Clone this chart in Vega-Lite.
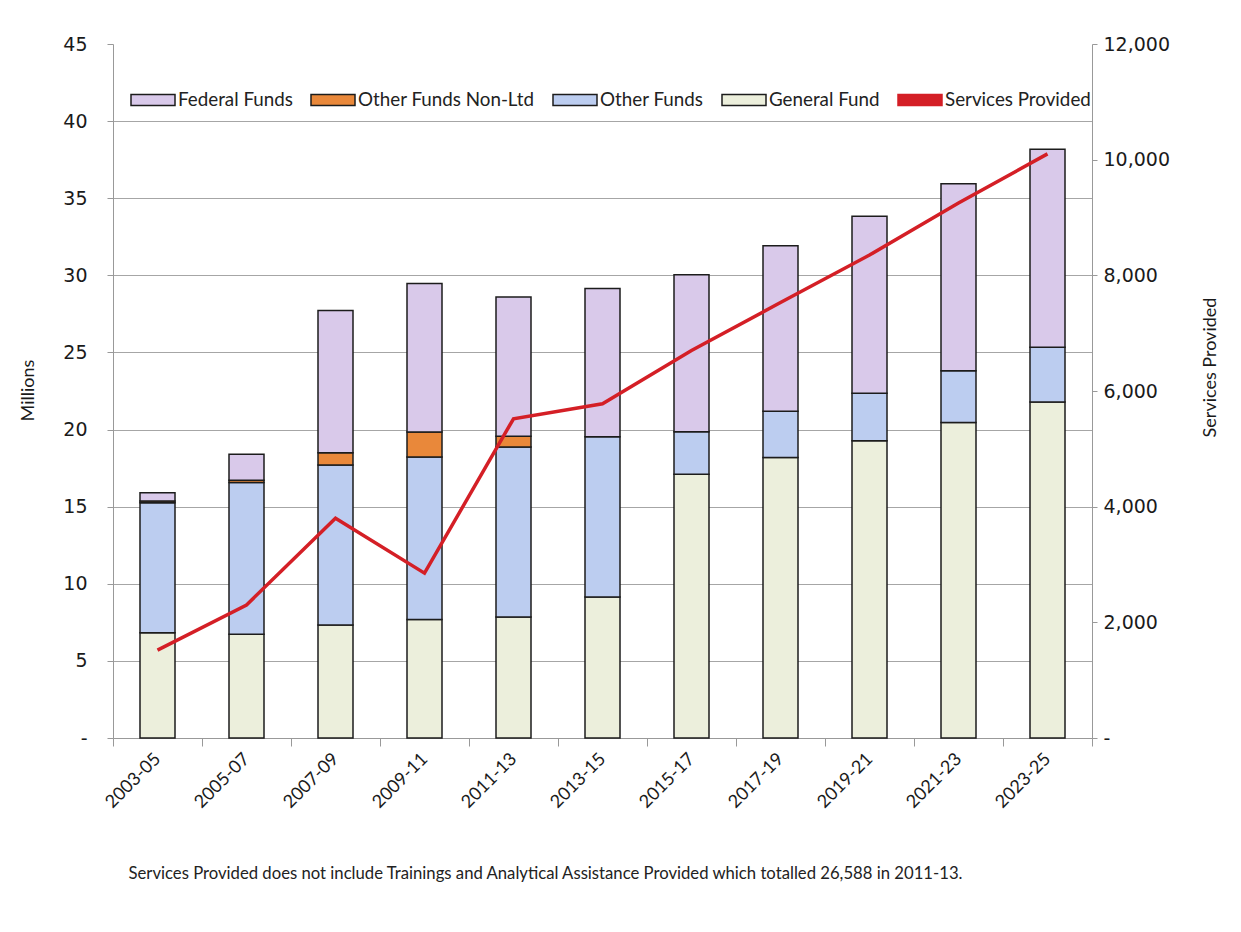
{
  "$schema": "https://vega.github.io/schema/vega-lite/v6.json",
  "width": 979,
  "height": 694,
  "autosize": {"type": "none"},
  "padding": {"left": 113, "top": 44, "right": 149, "bottom": 194},
  "background": "white",
  "config": {"view": {"stroke": null}, "font": "Lato"},
  "datasets": {
    "funds": [
      {"period": "2003-05", "fund": "General Fund", "amount": 6.83},
      {"period": "2003-05", "fund": "Other Funds", "amount": 8.43},
      {"period": "2003-05", "fund": "Other Funds Non-Ltd", "amount": 0.1},
      {"period": "2003-05", "fund": "Federal Funds", "amount": 0.55},
      {"period": "2005-07", "fund": "General Fund", "amount": 6.72},
      {"period": "2005-07", "fund": "Other Funds", "amount": 9.84},
      {"period": "2005-07", "fund": "Other Funds Non-Ltd", "amount": 0.15},
      {"period": "2005-07", "fund": "Federal Funds", "amount": 1.69},
      {"period": "2007-09", "fund": "General Fund", "amount": 7.33},
      {"period": "2007-09", "fund": "Other Funds", "amount": 10.37},
      {"period": "2007-09", "fund": "Other Funds Non-Ltd", "amount": 0.8},
      {"period": "2007-09", "fund": "Federal Funds", "amount": 9.22},
      {"period": "2009-11", "fund": "General Fund", "amount": 7.69},
      {"period": "2009-11", "fund": "Other Funds", "amount": 10.53},
      {"period": "2009-11", "fund": "Other Funds Non-Ltd", "amount": 1.62},
      {"period": "2009-11", "fund": "Federal Funds", "amount": 9.63},
      {"period": "2011-13", "fund": "General Fund", "amount": 7.84},
      {"period": "2011-13", "fund": "Other Funds", "amount": 11.03},
      {"period": "2011-13", "fund": "Other Funds Non-Ltd", "amount": 0.69},
      {"period": "2011-13", "fund": "Federal Funds", "amount": 9.04},
      {"period": "2013-15", "fund": "General Fund", "amount": 9.14},
      {"period": "2013-15", "fund": "Other Funds", "amount": 10.39},
      {"period": "2013-15", "fund": "Federal Funds", "amount": 9.62},
      {"period": "2015-17", "fund": "General Fund", "amount": 17.1},
      {"period": "2015-17", "fund": "Other Funds", "amount": 2.75},
      {"period": "2015-17", "fund": "Federal Funds", "amount": 10.18},
      {"period": "2017-19", "fund": "General Fund", "amount": 18.18},
      {"period": "2017-19", "fund": "Other Funds", "amount": 3.0},
      {"period": "2017-19", "fund": "Federal Funds", "amount": 10.74},
      {"period": "2019-21", "fund": "General Fund", "amount": 19.27},
      {"period": "2019-21", "fund": "Other Funds", "amount": 3.09},
      {"period": "2019-21", "fund": "Federal Funds", "amount": 11.47},
      {"period": "2021-23", "fund": "General Fund", "amount": 20.45},
      {"period": "2021-23", "fund": "Other Funds", "amount": 3.37},
      {"period": "2021-23", "fund": "Federal Funds", "amount": 12.12},
      {"period": "2023-25", "fund": "General Fund", "amount": 21.78},
      {"period": "2023-25", "fund": "Other Funds", "amount": 3.55},
      {"period": "2023-25", "fund": "Federal Funds", "amount": 12.85}
    ],
    "services": [
      {"period": "2003-05", "services": 1520},
      {"period": "2005-07", "services": 2300},
      {"period": "2007-09", "services": 3800},
      {"period": "2009-11", "services": 2850},
      {"period": "2011-13", "services": 5520},
      {"period": "2013-15", "services": 5780},
      {"period": "2015-17", "services": 6700},
      {"period": "2017-19", "services": 7530},
      {"period": "2019-21", "services": 8350},
      {"period": "2021-23", "services": 9250},
      {"period": "2023-25", "services": 10100}
    ]
  },
  "layer": [
    {
      "data": {"name": "funds"},
      "transform": [
        {"calculate": "indexof(['General Fund', 'Other Funds', 'Other Funds Non-Ltd', 'Federal Funds'], datum.fund)", "as": "stackOrder"}
      ],
      "mark": {"type": "bar", "width": 35, "strokeWidth": 1.5},
      "encoding": {
        "x": {
          "field": "period",
          "type": "ordinal",
          "scale": {"paddingInner": 0, "paddingOuter": 0},
          "axis": {
            "labelAngle": -45,
            "labelAlign": "right",
            "labelBaseline": "middle",
            "labelFont": "Lato",
            "labelFontSize": 18,
            "labelColor": "#1a1a1a",
            "labelPadding": 10,
            "tickBand": "extent",
            "tickSize": 8,
            "tickColor": "#999999",
            "domainColor": "#999999",
            "title": "Services Provided does not include Trainings and Analytical Assistance Provided which totalled 26,588 in 2011-13.",
            "titleFont": "Lato",
            "titleFontSize": 16.7,
            "titleFontWeight": "normal",
            "titleColor": "#222222",
            "titleAlign": "left",
            "titleBaseline": "alphabetic",
            "titleX": 15,
            "titleY": 140
          }
        },
        "y": {
          "field": "amount",
          "type": "quantitative",
          "stack": "zero",
          "scale": {"domain": [0, 45]},
          "axis": {
            "values": [0, 5, 10, 15, 20, 25, 30, 35, 40, 45],
            "labelExpr": "datum.value === 0 ? '-' : datum.label",
            "labelFont": "DejaVu Sans",
            "labelFontSize": 19,
            "labelColor": "#1a1a1a",
            "labelPadding": 20,
            "tickSize": 6,
            "tickColor": "#999999",
            "domainColor": "#999999",
            "grid": true,
            "gridColor": "#a6a6a6",
            "gridOpacity": {"condition": {"test": "datum.value === 45", "value": 0}, "value": 1},
            "title": "Millions",
            "titleFont": "Lato",
            "titleFontSize": 18,
            "titleFontWeight": "normal",
            "titleColor": "#1a1a1a",
            "titleAngle": -90,
            "titleAlign": "center",
            "titleBaseline": "middle",
            "titleX": -85,
            "titleY": 346
          }
        },
        "color": {
          "field": "fund",
          "type": "nominal",
          "scale": {
            "domain": ["Federal Funds", "Other Funds Non-Ltd", "Other Funds", "General Fund", "Services Provided"],
            "range": ["#d9c9ea", "#e9883a", "#bccdf0", "#ecefdc", "#d41f26"]
          },
          "legend": {
            "orient": "none",
            "legendX": 19,
            "legendY": 33,
            "direction": "horizontal",
            "columns": 5,
            "title": null,
            "padding": 0,
            "symbolSize": 1936,
            "symbolType": "M-1,-0.25H1V0.25H-1Z",
            "symbolOffset": -2,
            "labelFont": "Lato",
            "labelFontSize": 18.8,
            "labelColor": "#222222",
            "labelOffset": 2,
            "labelLimit": 300,
            "columnPadding": 15,
            "encode": {"symbols": {"update": {"size": {"value": 1936}, "strokeWidth": {"value": 1.5}, "fillOpacity": {"value": 1}, "strokeOpacity": {"value": 1}}}}
          }
        },
        "stroke": {
          "field": "fund",
          "type": "nominal",
          "scale": {
            "domain": ["Federal Funds", "Other Funds Non-Ltd", "Other Funds", "General Fund", "Services Provided"],
            "range": ["#1c1c1c", "#1c1c1c", "#1c1c1c", "#1c1c1c", "#d41f26"]
          },
          "legend": {
            "orient": "none",
            "legendX": 19,
            "legendY": 33,
            "direction": "horizontal",
            "columns": 5,
            "title": null,
            "padding": 0,
            "symbolSize": 1936,
            "symbolType": "M-1,-0.25H1V0.25H-1Z",
            "symbolOffset": -2,
            "labelFont": "Lato",
            "labelFontSize": 18.8,
            "labelColor": "#222222",
            "labelOffset": 2,
            "labelLimit": 300,
            "columnPadding": 15,
            "encode": {"symbols": {"update": {"size": {"value": 1936}, "strokeWidth": {"value": 1.5}, "fillOpacity": {"value": 1}, "strokeOpacity": {"value": 1}}}}
          }
        },
        "order": {"field": "stackOrder", "type": "quantitative"}
      }
    },
    {
      "data": {"name": "services"},
      "mark": {"type": "line", "strokeWidth": 3.5, "color": "#d41f26"},
      "encoding": {
        "x": {"field": "period", "type": "ordinal"},
        "y": {
          "field": "services",
          "type": "quantitative",
          "scale": {"domain": [0, 12000]},
          "axis": {
            "orient": "right",
            "values": [0, 2000, 4000, 6000, 8000, 10000, 12000],
            "labelExpr": "datum.value === 0 ? '-' : format(datum.value, ',')",
            "labelFont": "DejaVu Sans",
            "labelFontSize": 19,
            "labelColor": "#1a1a1a",
            "labelPadding": 6,
            "tickSize": 5,
            "tickColor": "#999999",
            "domainColor": "#999999",
            "grid": false,
            "title": "Services Provided",
            "titleFont": "Lato",
            "titleFontSize": 18,
            "titleFontWeight": "normal",
            "titleColor": "#1a1a1a",
            "titleAngle": -90,
            "titleAlign": "center",
            "titleBaseline": "middle",
            "titleX": 118,
            "titleY": 323
          }
        }
      }
    }
  ],
  "resolve": {"scale": {"y": "independent"}}
}
